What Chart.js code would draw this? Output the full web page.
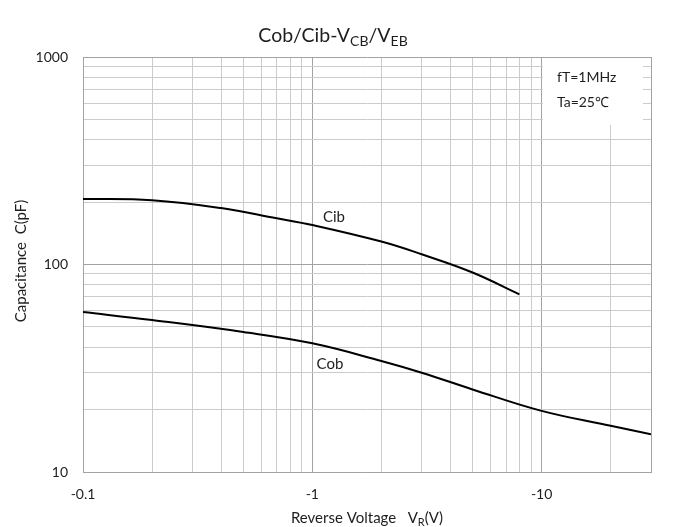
<!DOCTYPE html>
<html lang="en">
<head>
<meta charset="UTF-8">
<title>Cob/Cib-VCB/VEB</title>
<script src="https://cdn.jsdelivr.net/npm/chart.js"></script>
<style>
  html, body { margin: 0; padding: 0; background: #fff; }
</style>
</head>
<body>
<canvas id="chart" width="680" height="527"></canvas>
<script>
// reverse voltage magnitude (V); drawn on the axis as negative labels
const cibVoltage = [0.1, 0.2, 0.4, 0.7, 1, 2, 3, 5, 8];
const cibValues  = [207, 204, 187, 167, 155, 129, 112, 91.5, 71.8];
const cobVoltage = [0.1, 0.2, 0.5, 1, 2, 3, 5, 10, 20, 30];
const cobValues  = [59, 54, 47.3, 41.7, 34.3, 30.1, 25, 19.7, 16.7, 15.2];

const xTicks = [0.1, 0.2, 0.3, 0.4, 0.5, 0.6, 0.7, 0.8, 0.9, 1, 2, 3, 4, 5, 6, 7, 8, 9, 10, 20, 30];
const yTicks = [10, 20, 30, 40, 50, 60, 70, 80, 90, 100, 200, 300, 400, 500, 600, 700, 800, 900, 1000];
const xTickLabels = { 0.1: '-0.1', 1: '-1', 10: '-10' };
const yTickLabels = { 10: '10', 100: '100', 1000: '1000' };

const FONT = 'Lato, "Open Sans", sans-serif';
const TEXT = '#1e1e1e';
const MINOR = '#cccccc';
const MAJOR = '#a3a3a3';

function gridColor(ctx, edge) {
  const v = ctx.tick ? ctx.tick.value : 0;
  if (v === edge) return MAJOR;
  const l = Math.log10(v);
  return Math.abs(l - Math.round(l)) < 1e-6 ? MAJOR : MINOR;
}

// draws a run of text pieces, some of them as subscripts
function drawRich(c, parts, x, y, size) {
  const subSize = Math.round(size * 0.7);
  let w = 0;
  parts.forEach(p => {
    c.font = (p.sub ? subSize : size) + 'px ' + FONT;
    p.w = c.measureText(p.t).width;
    w += p.w;
  });
  let cx = x - w / 2;
  c.textBaseline = 'alphabetic';
  c.textAlign = 'left';
  parts.forEach(p => {
    c.font = (p.sub ? subSize : size) + 'px ' + FONT;
    c.fillText(p.t, cx, p.sub ? y + size * 0.22 : y);
    cx += p.w;
  });
}

const decorations = {
  id: 'decorations',
  beforeDatasetsDraw(chart) {
    const c = chart.ctx;
    c.save();
    // condition box in the top right corner
    c.fillStyle = '#fff';
    c.fillRect(543, 58, 100, 67);
    c.fillStyle = TEXT;
    c.font = '14px ' + FONT;
    c.textAlign = 'left';
    c.textBaseline = 'middle';
    c.fillText('fT=1MHz', 557, 77);
    c.fillText('Ta=25\u2103', 557, 102);
    c.restore();
  },
  afterDraw(chart) {
    const c = chart.ctx;
    c.save();
    c.fillStyle = TEXT;
    drawRich(c, [{t: 'Cob/Cib-V'}, {t: 'CB', sub: true}, {t: '/V'}, {t: 'EB', sub: true}], 333, 42, 19.5);
    drawRich(c, [{t: 'Reverse Voltage   V'}, {t: 'R', sub: true}, {t: '(V)'}], 367, 523, 15);
    c.save();
    c.translate(26, 261);
    c.rotate(-Math.PI / 2);
    drawRich(c, [{t: 'Capacitance  C(pF)'}], 0, 0, 15);
    c.restore();
    c.font = '15px ' + FONT;
    c.textAlign = 'center';
    c.textBaseline = 'middle';
    c.fillText('Cib', 334, 217);
    c.fillText('Cob', 330, 364);
    c.restore();
  }
};

new Chart(document.getElementById('chart'), {
  type: 'line',
  data: {
    datasets: [{
      label: 'Cib',
      data: cibVoltage.map((v, i) => ({x: v, y: cibValues[i]})),
      borderColor: '#000',
      borderWidth: 2,
      pointRadius: 0,
      tension: 0.4
    }, {
      label: 'Cob',
      data: cobVoltage.map((v, i) => ({x: v, y: cobValues[i]})),
      borderColor: '#000',
      borderWidth: 2,
      pointRadius: 0,
      tension: 0.4
    }]
  },
  options: {
    responsive: false,
    animation: false,
    devicePixelRatio: 1,
    layout: { padding: { left: 0, right: 29, top: 57, bottom: 0 } },
    plugins: { legend: { display: false }, tooltip: { enabled: false } },
    scales: {
      x: {
        type: 'logarithmic',
        min: 0.1,
        max: 30,
        afterBuildTicks: s => { s.ticks = xTicks.map(v => ({value: v})); },
        afterFit: s => { s.height = 55; },
        ticks: {
          autoSkip: false,
          maxRotation: 0,
          padding: 14,
          color: TEXT,
          font: { family: FONT, size: 14 },
          callback: v => xTickLabels[v] || ''
        },
        grid: { drawTicks: false, color: ctx => gridColor(ctx, 30) },
        border: { color: MAJOR }
      },
      y: {
        type: 'logarithmic',
        min: 10,
        max: 1000,
        afterBuildTicks: s => { s.ticks = yTicks.map(v => ({value: v})); },
        afterFit: s => { s.width = 83; },
        ticks: {
          autoSkip: false,
          padding: 15,
          color: TEXT,
          font: { family: FONT, size: 14 },
          callback: v => yTickLabels[v] || ''
        },
        grid: { drawTicks: false, color: ctx => gridColor(ctx, 1000) },
        border: { color: MAJOR }
      }
    }
  },
  plugins: [decorations]
});
</script>
</body>
</html>
